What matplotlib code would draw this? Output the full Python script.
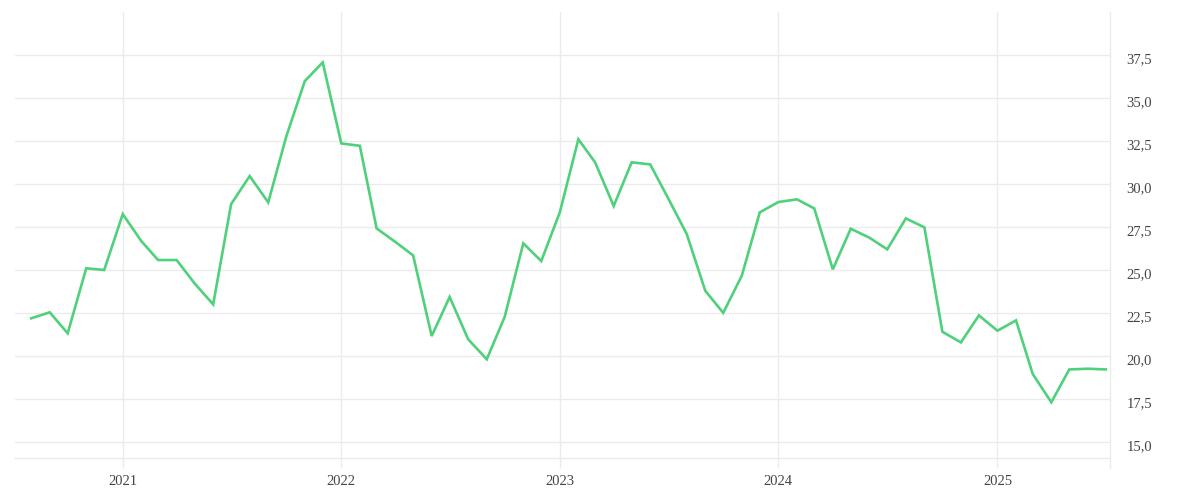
import matplotlib
matplotlib.use("Agg")
import matplotlib.pyplot as plt
import matplotlib.dates as mdates
import matplotlib.transforms as mtrans
from matplotlib.ticker import FixedLocator, FuncFormatter
import pandas as pd

# ---- data ----
start_month = "2020-08-01"
n_months = 60
values = [
    22.21, 22.56, 21.34, 25.12, 25.02,
    28.27, 26.70, 25.60, 25.60, 24.24, 23.02, 28.85, 30.48, 28.95, 32.77, 36.00, 37.09,
    32.38, 32.24, 27.44, 26.66, 25.87, 21.18, 23.45, 20.99, 19.83, 22.30, 26.57, 25.54,
    28.37, 32.62, 31.28, 28.74, 31.28, 31.16, 29.19, 27.11, 23.81, 22.53, 24.69, 28.37,
    28.97, 29.13, 28.60, 25.06, 27.42, 26.90, 26.22, 28.02, 27.50, 21.43, 20.81, 22.38,
    21.49, 22.09, 18.97, 17.33, 19.24, 19.28, 19.24,
]
year_ticks = ["2021-01-01", "2022-01-01", "2023-01-01", "2024-01-01", "2025-01-01"]
year_labels = ["2021", "2022", "2023", "2024", "2025"]
y_ticks = [15.0, 17.5, 20.0, 22.5, 25.0, 27.5, 30.0, 32.5, 35.0, 37.5]

dates = pd.date_range(start_month, periods=n_months, freq="MS")

# ---- style ----
GRID = "#ebebeb"
TEXT = "#444444"
LINE = "#4fd07b"
plt.rcParams["font.family"] = ["Liberation Serif", "DejaVu Serif"]

fig = plt.figure(figsize=(12, 5), dpi=100)
ax = fig.add_axes([15 / 1200, 1 - 458 / 500, (1110 - 15) / 1200, (458 - 12) / 500])

ax.plot(dates, values, color=LINE, linewidth=1.9, solid_joinstyle="miter", zorder=3)

ax.set_xlim(pd.Timestamp("2020-07-05"), pd.Timestamp("2025-07-08"))
ax.set_ylim(14.09, 40.02)

ax.xaxis.set_major_locator(FixedLocator(mdates.date2num(pd.to_datetime(year_ticks))))
ax.set_xticklabels(year_labels)
ax.yaxis.set_major_locator(FixedLocator(y_ticks))
ax.yaxis.set_major_formatter(FuncFormatter(lambda v, p: f"{v:.1f}".replace(".", ",")))
ax.yaxis.tick_right()

ax.grid(True, color=GRID, linewidth=1.0, zorder=0)
ax.set_axisbelow(True)

for s in ["top", "left", "right"]:
    ax.spines[s].set_visible(False)
ax.spines["bottom"].set_color(GRID)
ax.spines["bottom"].set_linewidth(1.0)

# right boundary line extending below like the ticks
ext = 10 / 446
ax.plot([1, 1], [-ext, 1], transform=ax.transAxes, color=GRID, linewidth=1.0,
        clip_on=False, zorder=1)

ax.tick_params(axis="x", length=7.2, width=1.0, color=GRID, direction="out",
               labelsize=10.5, labelcolor=TEXT, pad=5)
ax.tick_params(axis="y", length=0, labelsize=10.5, labelcolor=TEXT, pad=12)

offset = mtrans.ScaledTranslation(0, -2.5 / 100, fig.dpi_scale_trans)
for lbl in ax.get_yticklabels():
    lbl.set_transform(lbl.get_transform() + offset)

fig.savefig("out.png", dpi=100, facecolor="white")
